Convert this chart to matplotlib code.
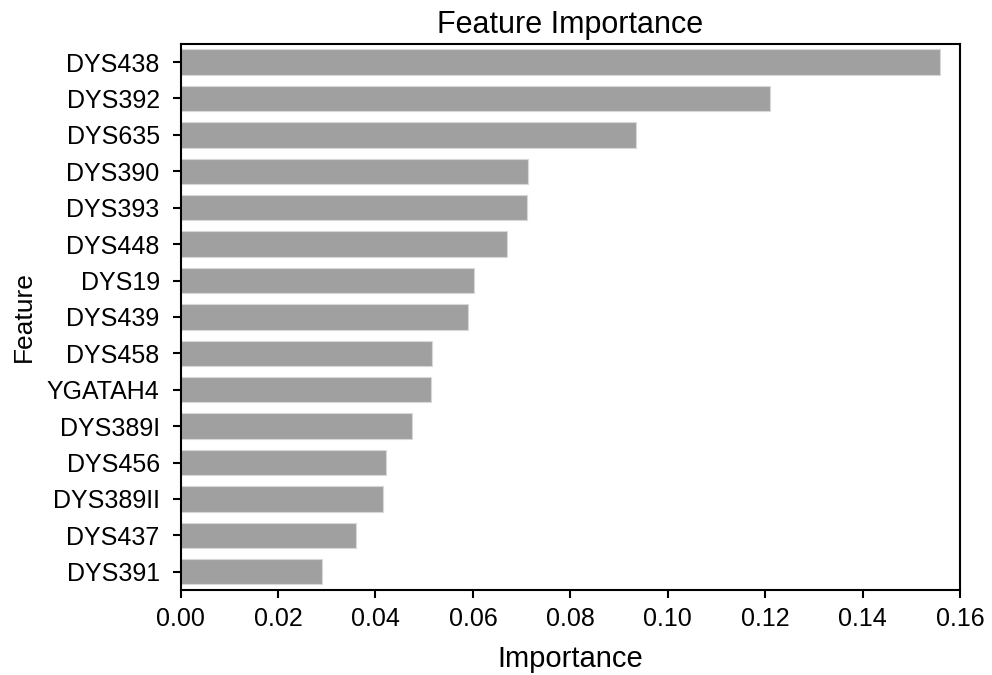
import matplotlib
matplotlib.use("Agg")
import matplotlib.pyplot as plt

# feature importances
features = ["DYS438", "DYS392", "DYS635", "DYS390", "DYS393", "DYS448", "DYS19",
            "DYS439", "DYS458", "YGATAH4", "DYS389I", "DYS456", "DYS389II",
            "DYS437", "DYS391"]
importance = [0.1558, 0.1210, 0.0935, 0.0714, 0.0711, 0.0669, 0.0603,
              0.0589, 0.0517, 0.0514, 0.0475, 0.0421, 0.0415, 0.0360, 0.0291]
xticks = [0.00, 0.02, 0.04, 0.06, 0.08, 0.10, 0.12, 0.14, 0.16]

plt.rcParams['font.family'] = ['Liberation Sans', 'DejaVu Sans']

fig = plt.figure(figsize=(9.92, 6.75), dpi=100)
ax = fig.add_axes([0.182, 0.126, 0.786, 0.809])

pos = list(range(len(features)))
ax.barh(pos, importance, height=0.7, color='#a0a0a0', edgecolor='#d8d8d8', linewidth=0.8)
ax.set_ylim(len(features) - 0.5, -0.5)
ax.set_xlim(0, 0.16)
ax.set_yticks(pos)
ax.set_yticklabels(features)
ax.set_xticks(xticks)
ax.set_xticklabels([f"{t:.2f}" for t in xticks])

ax.tick_params(axis='both', labelsize=18, length=6, width=1.5, direction='out')
ax.tick_params(axis='y', pad=9)
ax.tick_params(axis='x', pad=6)
for s in ax.spines.values():
    s.set_linewidth(1.5)
    s.set_color('black')

ax.set_xlabel('Importance', fontsize=21, labelpad=10)
ax.set_ylabel('Feature', fontsize=19, labelpad=8)
ax.set_title('Feature Importance', fontsize=22, pad=8)

fig.savefig('out.png', dpi=100)
